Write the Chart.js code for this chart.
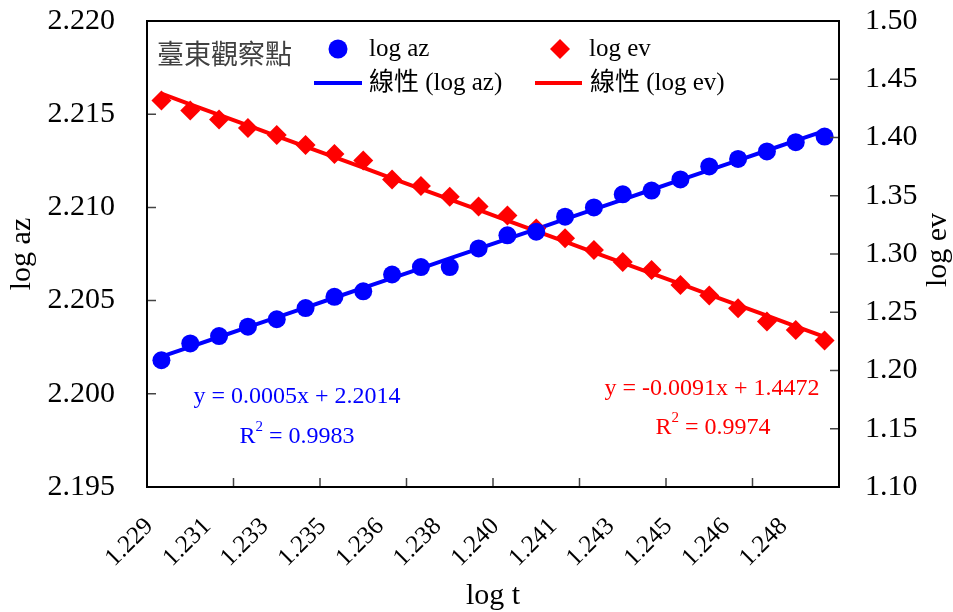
<!DOCTYPE html>
<html>
<head>
<meta charset="utf-8">
<script src="https://cdn.jsdelivr.net/npm/chart.js@4"></script>
<style>
body{margin:0;background:#fff}
#wrap{width:953px;height:612px}
</style>
</head>
<body>
<div id="wrap"><canvas id="chart"></canvas></div>
<script>
// data
const logT=['1.229','1.230','1.231','1.232','1.233','1.234','1.235','1.235','1.236','1.237','1.238','1.239',
            '1.240','1.240','1.241','1.242','1.243','1.244','1.245','1.245','1.246','1.247','1.248','1.249'];
const logAz=[2.2018,2.2027,2.2031,2.2036,2.2040,2.2046,2.2052,2.2055,2.2064,2.2068,2.2068,2.2078,
             2.2085,2.2087,2.2095,2.2100,2.2107,2.2109,2.2115,2.2122,2.2126,2.2130,2.2135,2.2138];
const logEv=[1.4318,1.4232,1.4154,1.4082,1.4021,1.3936,1.3858,1.3803,1.3639,1.3584,1.3492,1.3408,
             1.3330,1.3219,1.3135,1.3034,1.2931,1.2863,1.2734,1.2644,1.2534,1.2421,1.2348,1.2257];
const azTicks=[2.195,2.200,2.205,2.210,2.215,2.220];
const evTicks=[1.10,1.15,1.20,1.25,1.30,1.35,1.40,1.45,1.50];
const azEq=['y = 0.0005x + 2.2014','0.9983'];
const evEq=['y = -0.0091x + 1.4472','0.9974'];

const SERIF='"Liberation Serif","Times New Roman",serif';
const MIX='"Liberation Serif","Noto Sans CJK TC",serif';

// least squares trendline over point index 1..n
function trend(ys){
  const n=ys.length;let sx=0,sy=0,sxx=0,sxy=0;
  ys.forEach((y,i)=>{const x=i+1;sx+=x;sy+=y;sxx+=x*x;sxy+=x*y;});
  const b=(n*sxy-sx*sy)/(n*sxx-sx*sx),a=(sy-b*sx)/n;
  return ys.map((_,i)=>a+b*(i+1));
}

function drawR2(ctx,cx,y,val,color){
  ctx.fillStyle=color;
  ctx.font='24px '+SERIF;
  const rw=ctx.measureText('R').width;
  ctx.font='15px '+SERIF;
  const sw=ctx.measureText('2').width;
  ctx.font='24px '+SERIF;
  const rest=' = '+val;
  const tw=rw+sw+ctx.measureText(rest).width;
  let x=cx-tw/2;
  ctx.textAlign='left';ctx.textBaseline='middle';
  ctx.fillText('R',x,y);x+=rw;
  ctx.font='15px '+SERIF;ctx.fillText('2',x,y-10);x+=sw;
  ctx.font='24px '+SERIF;ctx.fillText(rest,x,y);
}

const extras={
  id:'extras',
  afterDraw(chart){
    const ctx=chart.ctx,a=chart.chartArea;
    const sx=chart.scales.x,sy=chart.scales.y,sy1=chart.scales.y1;
    ctx.save();
    // inward tick marks
    ctx.strokeStyle='#444';ctx.lineWidth=1.5;
    ctx.beginPath();
    sy.ticks.forEach(t=>{const p=sy.getPixelForValue(t.value);ctx.moveTo(a.left,p);ctx.lineTo(a.left+9,p);});
    sy1.ticks.forEach(t=>{const p=sy1.getPixelForValue(t.value);ctx.moveTo(a.right,p);ctx.lineTo(a.right-9,p);});
    for(let i=3;i<logT.length;i+=3){
      const p=(sx.getPixelForValue(i-1)+sx.getPixelForValue(i))/2;
      ctx.moveTo(p,a.bottom);ctx.lineTo(p,a.bottom-9);
    }
    ctx.stroke();
    // frame
    ctx.strokeStyle='#000';ctx.lineWidth=2;
    ctx.strokeRect(a.left,a.top,a.right-a.left,a.bottom-a.top);

    // right axis title, reading upward
    ctx.fillStyle='#000';ctx.font='30px '+SERIF;
    ctx.textAlign='center';ctx.textBaseline='middle';
    ctx.save();ctx.translate(938,(a.top+a.bottom)/2-4);ctx.rotate(-Math.PI/2);
    ctx.fillText('log ev',0,0);ctx.restore();

    // legend
    const ds=chart.data.datasets;
    ctx.fillStyle='#404040';ctx.font='27px "Noto Sans CJK TC",sans-serif';
    ctx.textAlign='left';
    ctx.fillText('臺東觀察點',157,54);
    ctx.font='25px '+MIX;
    // row 1: markers
    ctx.fillStyle=ds[0].backgroundColor;
    ctx.beginPath();ctx.arc(338,49,9.5,0,Math.PI*2);ctx.fill();
    ctx.fillStyle='#000';ctx.fillText(ds[0].label,369,49);
    ctx.fillStyle=ds[1].backgroundColor;
    ctx.beginPath();ctx.moveTo(560,39);ctx.lineTo(570,49);ctx.lineTo(560,59);ctx.lineTo(550,49);ctx.closePath();ctx.fill();
    ctx.fillStyle='#000';ctx.fillText(ds[1].label,589,49);
    // row 2: lines
    ctx.lineWidth=4;
    ctx.strokeStyle=ds[2].borderColor;
    ctx.beginPath();ctx.moveTo(314,83);ctx.lineTo(362,83);ctx.stroke();
    ctx.fillStyle='#000';ctx.fillText(ds[2].label,369,83);
    ctx.strokeStyle=ds[3].borderColor;
    ctx.beginPath();ctx.moveTo(535,83);ctx.lineTo(582,83);ctx.stroke();
    ctx.fillStyle='#000';ctx.fillText(ds[3].label,590,83);

    // equations
    ctx.font='24px '+SERIF;ctx.textAlign='center';
    ctx.fillStyle='#0000FF';ctx.fillText(azEq[0],297,397);
    drawR2(ctx,297,437,azEq[1],'#0000FF');
    ctx.font='24px '+SERIF;ctx.textAlign='center';
    ctx.fillStyle='#FF0000';ctx.fillText(evEq[0],712,389);
    drawR2(ctx,713,428,evEq[1],'#FF0000');
    ctx.restore();
  }
};

const tickFont={family:SERIF,size:30};

new Chart(document.getElementById('chart'),{
  type:'line',
  data:{
    labels:logT,
    datasets:[
      {label:'log az',data:logAz,yAxisID:'y',showLine:false,pointStyle:'circle',pointRadius:9,
       backgroundColor:'#0000FF',borderColor:'#0000FF',pointBorderWidth:0,order:0},
      {label:'log ev',data:logEv,yAxisID:'y1',showLine:false,pointStyle:'rectRot',pointRadius:10,
       backgroundColor:'#FF0000',borderColor:'#FF0000',pointBorderWidth:0,order:0},
      {label:'線性 (log az)',data:trend(logAz),yAxisID:'y',pointRadius:0,borderColor:'#0000FF',borderWidth:4,order:1},
      {label:'線性 (log ev)',data:trend(logEv),yAxisID:'y1',pointRadius:0,borderColor:'#FF0000',borderWidth:4,order:1}
    ]
  },
  options:{
    responsive:true,maintainAspectRatio:false,animation:false,
    layout:{padding:{top:21,left:0,right:0,bottom:0}},
    plugins:{legend:{display:false},tooltip:{enabled:false}},
    events:[],
    scales:{
      x:{type:'category',offset:true,
         grid:{display:false,drawTicks:false},border:{display:false},
         ticks:{autoSkip:false,minRotation:45,maxRotation:45,padding:25,labelOffset:-12,
                color:'#000',font:{family:SERIF,size:25},
                callback:(v,i)=>i%2===0?logT[i]:''},
         title:{display:true,text:'log t',color:'#000',font:tickFont,padding:{top:0,bottom:-2}},
         afterFit:s=>{s.height=125;}},
      y:{position:'left',min:azTicks[0],max:azTicks[azTicks.length-1],
         grid:{display:false,drawTicks:true,tickLength:32},border:{display:false},
         afterBuildTicks:s=>{s.ticks=azTicks.map(v=>({value:v}));},
         ticks:{padding:0,color:'#000',font:tickFont,callback:v=>v.toFixed(3)},
         title:{display:true,text:'log az',color:'#000',font:tickFont,padding:{top:4}},
         afterFit:s=>{s.width=147;}},
      y1:{position:'right',min:evTicks[0],max:evTicks[evTicks.length-1],
         grid:{display:false,drawTicks:true,tickLength:26},border:{display:false},
         afterBuildTicks:s=>{s.ticks=evTicks.map(v=>({value:v}));},
         ticks:{padding:0,color:'#000',font:tickFont,callback:v=>v.toFixed(2)},
         afterFit:s=>{s.width=114;}}
    }
  },
  plugins:[extras]
});
</script>
</body>
</html>
